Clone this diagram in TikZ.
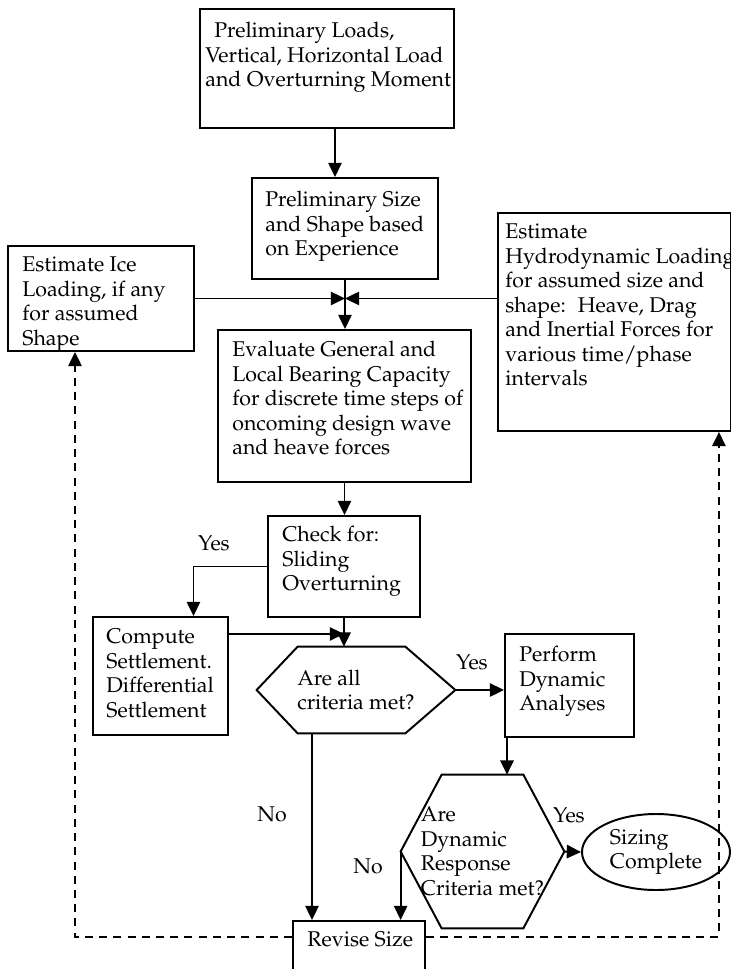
\documentclass[tikz,border=0pt]{standalone}
\usepackage[T1]{fontenc}
\usepackage{mathpazo}
\usepackage{tikz}
\usetikzlibrary{arrows.meta,shapes.geometric}
\newlength{\pxl}
\setlength{\pxl}{0.5625pt}
\newcommand{\chartFont}{\fontsize{12}{13.8}\selectfont}
\tikzstyle{chart} = [x = 0.5625pt, y = -0.5625pt, every node/.style={font=\chartFont}]
\tikzstyle{boxStyle} = [draw, line width=1.1pt, anchor=north west, inner sep=0pt]
\tikzstyle{boxText} = [anchor=north west, align=left, inner sep=0pt]
\tikzstyle{decisionStyle} = [align=left, inner sep=0pt]
\tikzstyle{lineStyle} = [line width=1.1pt]
\tikzstyle{flowArrow} = [line width=1.1pt, -{Triangle[length=8pt, width=7.5pt]}]
\tikzstyle{backArrow} = [flowArrow, dash pattern=on 4.5pt off 3.5pt]
\newcommand{\flowBox}[5]{\node [boxStyle, minimum width=(#4-#2)*\pxl, minimum height=(#5-#3)*\pxl] (#1) at (#2,#3) {};}
% text origin is the first baseline, the strut lifts the top edge by 17px
\newcommand{\boxLabel}[4]{\node [boxText] (#1) at (#2,#3-17) {\strut #4};}
\newcommand{\hexOutline}[3]{\draw [lineStyle] (#1.west) -- ([xshift=#2\pxl]#1.north west) -- ([xshift=-#3\pxl]#1.north east) -- (#1.east) -- ([xshift=-#3\pxl]#1.south east) -- ([xshift=#2\pxl]#1.south west) -- cycle;}
\begin{document}
\begin{tikzpicture}[chart]
  \useasboundingbox (0,0) rectangle (731,969);

  % boxes
  \flowBox{topLoads}{199}{8}{453}{127}
  \boxLabel{topLoadsText}{205}{37}{\hspace*{9\pxl}Preliminary Loads,\\Vertical, Horizontal Load\\and Overturning Moment}
  \flowBox{prelimSize}{251}{177}{437}{278}
  \boxLabel{prelimSizeText}{265}{206}{Preliminary Size\\and Shape based\\on Experience}
  \flowBox{iceLoad}{7}{245}{193}{350}
  \boxLabel{iceLoadText}{22}{271}{Estimate Ice\\Loading, if any\\for assumed\\Shape}
  \flowBox{hydroLoad}{497}{212}{730}{430}
  \boxLabel{hydroLoadText}{505}{238}{Estimate\\Hydrodynamic Loading\\for assumed size and\\shape:~ Heave, Drag\\and Inertial Forces for\\various time/phase\\intervals}
  \flowBox{evalBearing}{217}{329}{470}{481}
  \boxLabel{evalBearingText}{232}{356}{Evaluate General and\\Local Bearing Capacity\\for discrete time steps of\\oncoming design wave\\and heave forces}
  \flowBox{checkSlide}{267}{515}{419}{616}
  \boxLabel{checkSlideText}{282}{541}{Check for:\\Sliding\\Overturning}
  \flowBox{settleComp}{92}{616}{227}{734}
  \boxLabel{settleCompText}{106}{643}{Compute\\Settlement.\\Differential\\Settlement}
  \flowBox{perfDyn}{504}{633}{633}{736}
  \boxLabel{perfDynText}{519}{661}{Perform\\Dynamic\\Analyses}
  \flowBox{reviseSize}{292}{920}{424}{990}
  \boxLabel{reviseSizeText}{307}{946}{Revise Size}

  % decisions
  \node [decisionStyle, minimum width=198*\pxl, minimum height=86*\pxl] (critAll) at (356,690) {Are all\\criteria met?};
  \hexOutline{critAll}{41}{50}
  \node [decisionStyle, minimum width=163*\pxl, minimum height=153*\pxl] (critDyn) at (482.5,851.5) {Are\\Dynamic\\Response\\Criteria met?};
  \hexOutline{critDyn}{41}{41}
  \node [ellipse, draw, lineStyle, decisionStyle, minimum width=148*\pxl, minimum height=76*\pxl] (sizeDone) at (656,852) {Sizing\\Complete};

  % answers
  \node (yesSlide) at (214,543) {Yes};
  \node (yesAll) at (472,662) {Yes};
  \node (noAll) at (272,814) {No};
  \node (noDyn) at (368,866) {No};
  \node (yesDyn) at (569,815) {Yes};

  % connectors
  \coordinate (junction) at (prelimSize.south |- iceLoad.east);
  \draw [flowArrow] ([xshift=8\pxl]topLoads.south) -- ([xshift=8\pxl]topLoads.south |- prelimSize.north);
  \draw [flowArrow] (prelimSize.south) -- (prelimSize.south |- evalBearing.north);
  \draw [flowArrow] (iceLoad.east) -- (junction);
  \draw [flowArrow] (hydroLoad.west |- junction) -- (junction);
  \draw [flowArrow] (evalBearing.south) -- (evalBearing.south |- checkSlide.north);
  \draw [flowArrow] (checkSlide.west) -| ([xshift=33\pxl]settleComp.north);
  \draw [flowArrow] (checkSlide.south) -- (checkSlide.south |- critAll.north);
  \draw [flowArrow] ([yshift=42\pxl]settleComp.east) -- ([yshift=42\pxl]settleComp.east -| checkSlide.south);
  \draw [flowArrow] (critAll.east) -- (critAll.east -| perfDyn.west);
  \draw [flowArrow] ([xshift=3\pxl]perfDyn.south west) -- ([xshift=3\pxl]perfDyn.south west |- critDyn.north);
  \draw [flowArrow] ([xshift=20\pxl]reviseSize.north west |- critAll.south) -- ([xshift=20\pxl]reviseSize.north west);
  \draw [flowArrow] (critDyn.west) -- (critDyn.west |- reviseSize.north);
  \draw [flowArrow] (critDyn.east) -- (sizeDone.west);
  \draw [backArrow] ([yshift=-17\pxl]reviseSize.north west) -| ([xshift=68\pxl]iceLoad.south west);
  \draw [backArrow] ([yshift=-17\pxl]reviseSize.north east) -| ([xshift=-13\pxl]hydroLoad.south east);
\end{tikzpicture}
\end{document}
